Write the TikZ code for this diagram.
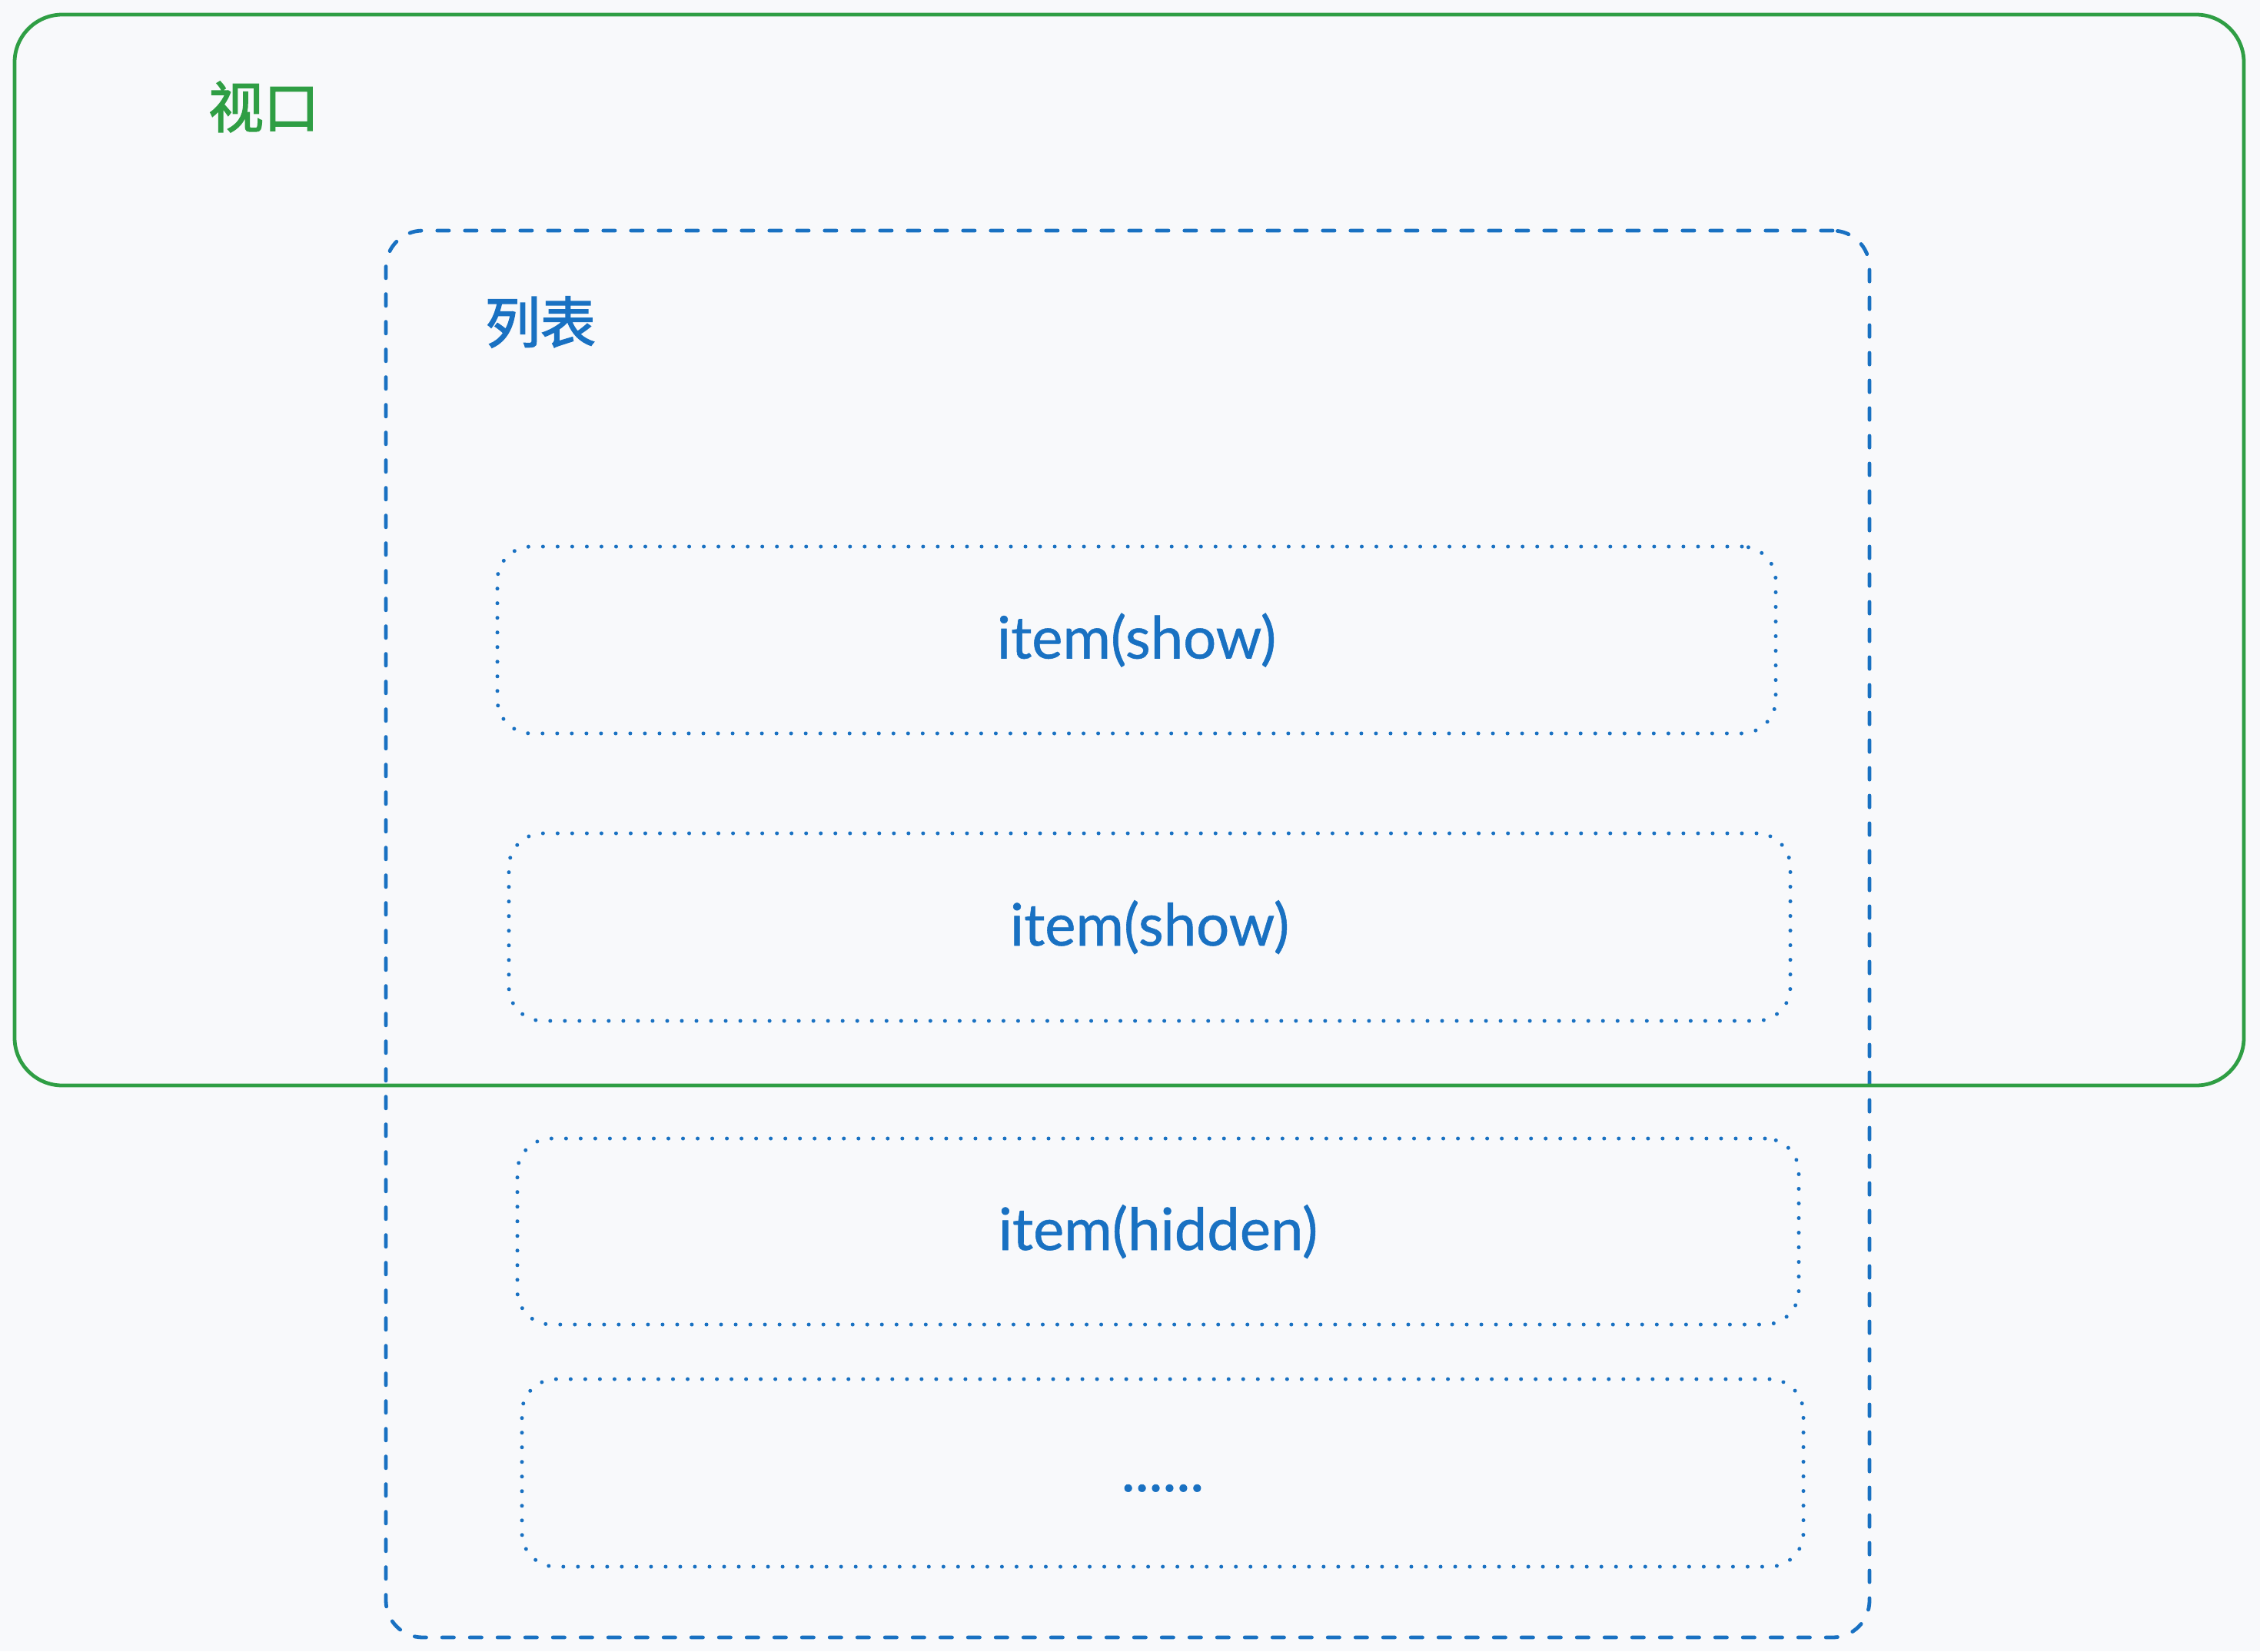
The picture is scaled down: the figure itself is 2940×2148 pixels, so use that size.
\documentclass[tikz,border=0pt]{standalone}
\usepackage{fontspec}
\setmainfont{Lato}[FakeBold=0.7]
\newfontfamily\cjk{Noto Sans CJK SC}[FakeBold=2]
\definecolor{exgreen}{HTML}{2F9E44}
\definecolor{exblue}{HTML}{1971C2}
\definecolor{bgc}{HTML}{F8F9FB}
\tikzset{
  viewbox/.style={draw=exgreen, line width=2.4pt, rounded corners=31pt, inner sep=0pt},
  listbox/.style={draw=exblue, line width=2.4pt, rounded corners=24pt, dash pattern=on 7.6pt off 10.4pt, line cap=round, inner sep=0pt},
  itembox/.style={draw=exblue, line width=2.5pt, rounded corners=22pt, dash pattern=on 0.01pt off 9.5pt, line cap=round, inner sep=0pt,
    text=exblue, font=\fontsize{38}{45}\selectfont, text height=31pt, text depth=7pt},
  cjklabel/.style={font=\cjk\fontsize{36}{43}\selectfont, inner sep=0pt}
}
\begin{document}
\begin{tikzpicture}[x=0.5pt,y=-0.5pt]
\fill[bgc] (0,0) rectangle (2940,2148);
\useasboundingbox (0,0) rectangle (2940,2148);
% list container
\node[listbox, minimum width=965pt, minimum height=915pt] (list) at (1467,1215) {};
% viewport
\node[viewbox, minimum width=1450pt, minimum height=696.5pt] (view) at (1469,715.5) {};
% items
\node[itembox, minimum width=831.5pt, minimum height=121.5pt] (i1) at (1478.5,832.5) {item(show)};
\node[itembox, minimum width=833.5pt, minimum height=122pt] (i2) at (1495.5,1206) {item(show)};
\node[itembox, minimum width=833.5pt, minimum height=121pt] (i3) at (1506.5,1602) {item(hidden)};
\node[itembox, minimum width=833.5pt, minimum height=122pt] (i4) at (1512.5,1916) {......};
% labels
\node[cjklabel, text=exgreen] (vlabel) at (343,139) {视口};
\node[cjklabel, text=exblue] (llabel) at (703,419) {列表};
\end{tikzpicture}
\end{document}
